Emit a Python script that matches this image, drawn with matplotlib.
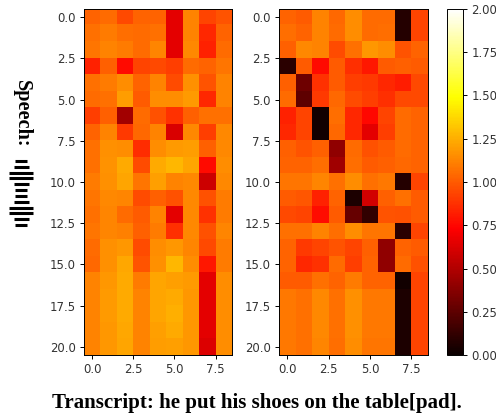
import matplotlib
matplotlib.use("Agg")
import matplotlib.pyplot as plt
import numpy as np

W, H = 496, 415

# values, 21 rows x 9 columns
left_vals = [
    [1.03, 1.05, 0.95, 1.03, 1.03, 0.65, 1.12, 0.93, 0.98],
    [1.07, 1.10, 1.06, 1.05, 1.07, 0.65, 1.12, 0.85, 1.03],
    [1.08, 1.12, 1.10, 1.05, 1.13, 0.65, 1.14, 0.83, 1.05],
    [0.83, 1.02, 0.76, 0.93, 0.95, 0.92, 1.05, 1.03, 1.08],
    [1.07, 1.10, 1.15, 1.03, 1.12, 0.96, 1.16, 0.98, 1.12],
    [1.05, 1.07, 1.20, 1.00, 1.15, 1.15, 1.19, 0.85, 1.12],
    [0.92, 1.02, 0.46, 1.05, 0.97, 0.88, 1.02, 1.07, 1.07],
    [1.03, 1.12, 0.90, 1.04, 1.12, 0.62, 1.14, 0.92, 1.14],
    [1.07, 1.16, 1.15, 0.86, 1.15, 1.19, 1.20, 1.02, 1.14],
    [1.07, 1.17, 1.24, 0.96, 1.24, 1.28, 1.22, 0.76, 1.15],
    [1.10, 1.16, 1.22, 1.08, 1.21, 1.12, 1.14, 0.58, 1.14],
    [1.08, 1.14, 1.13, 0.96, 1.02, 0.97, 1.14, 0.97, 1.10],
    [1.07, 1.13, 1.05, 1.00, 1.12, 0.65, 1.14, 0.88, 1.10],
    [1.08, 1.13, 1.11, 1.02, 1.10, 0.87, 1.14, 0.97, 1.13],
    [1.05, 1.16, 1.18, 0.96, 1.15, 1.18, 1.13, 0.95, 1.10],
    [1.04, 1.16, 1.23, 0.98, 1.16, 1.28, 1.15, 0.80, 1.10],
    [1.12, 1.18, 1.24, 1.10, 1.22, 1.21, 1.19, 0.65, 1.15],
    [1.12, 1.19, 1.24, 1.12, 1.22, 1.24, 1.18, 0.65, 1.15],
    [1.12, 1.19, 1.24, 1.12, 1.22, 1.25, 1.18, 0.65, 1.15],
    [1.12, 1.18, 1.23, 1.12, 1.21, 1.24, 1.18, 0.65, 1.15],
    [1.12, 1.18, 1.22, 1.12, 1.20, 1.21, 1.18, 0.63, 1.15],
]
right_vals = [
    [1.03, 1.00, 1.12, 1.04, 1.15, 1.05, 1.05, 0.08, 0.93],
    [1.06, 1.03, 1.12, 1.05, 1.15, 1.05, 1.06, 0.08, 0.93],
    [1.02, 1.14, 1.12, 0.96, 1.07, 1.18, 1.15, 0.98, 1.03],
    [0.10, 1.00, 0.76, 1.00, 0.87, 0.80, 1.00, 1.02, 1.00],
    [1.02, 0.30, 0.88, 1.00, 0.92, 0.90, 0.85, 0.82, 0.95],
    [1.05, 0.25, 0.90, 1.04, 0.96, 0.92, 0.87, 0.95, 0.95],
    [0.83, 0.93, 0.03, 1.06, 0.85, 0.75, 0.93, 1.05, 1.03],
    [0.85, 0.93, 0.03, 1.04, 0.85, 0.65, 0.92, 1.05, 1.03],
    [1.02, 0.98, 1.02, 0.40, 1.05, 0.97, 1.00, 1.05, 1.03],
    [1.03, 1.03, 1.06, 0.45, 1.06, 1.00, 1.02, 1.04, 1.03],
    [1.08, 1.08, 1.13, 1.07, 1.15, 1.07, 1.09, 0.08, 0.93],
    [1.00, 0.99, 0.83, 1.03, 0.06, 0.60, 1.02, 1.07, 1.00],
    [0.95, 0.93, 0.77, 1.00, 0.28, 0.12, 0.98, 0.97, 1.00],
    [1.07, 1.07, 1.12, 1.06, 1.15, 1.08, 1.08, 0.10, 0.93],
    [1.03, 0.90, 0.93, 0.98, 0.93, 1.02, 0.40, 1.03, 1.00],
    [1.03, 0.85, 0.88, 1.05, 0.92, 1.03, 0.40, 1.05, 0.97],
    [1.00, 1.00, 1.07, 1.03, 1.10, 1.03, 1.03, 0.03, 0.93],
    [1.09, 1.07, 1.14, 1.07, 1.16, 1.09, 1.09, 0.06, 0.93],
    [1.09, 1.07, 1.14, 1.07, 1.16, 1.09, 1.09, 0.06, 0.93],
    [1.09, 1.07, 1.14, 1.07, 1.16, 1.09, 1.09, 0.06, 0.93],
    [1.09, 1.07, 1.13, 1.06, 1.15, 1.08, 1.08, 0.06, 0.93],
]
# half widths of the little waveform bars under "Speech:"
wave_widths = [6, 7.5, 12, 12, 7.5, 6, 6, 7.5, 12, 12, 7.5, 6]
speech_label = "Speech:"
transcript = "Transcript: he put his shoes on the table[pad]."
x_ticks = [0, 2.5, 5, 7.5]
y_ticks = [0, 2.5, 5, 7.5, 10, 12.5, 15, 17.5, 20]
cbar_ticks = [0, 0.25, 0.5, 0.75, 1, 1.25, 1.5, 1.75, 2]


def px_axes(fig, x0, y0, x1, y1):
    return fig.add_axes([x0 / W, 1 - y1 / H, (x1 - x0) / W, (y1 - y0) / H])


fig = plt.figure(figsize=(W / 100, H / 100), dpi=100)

ax1 = px_axes(fig, 84, 9, 232, 355)
ax2 = px_axes(fig, 279, 9, 428, 355)
for ax, vals in [(ax1, left_vals), (ax2, right_vals)]:
    im = ax.imshow(np.array(vals), cmap="hot", vmin=0, vmax=2, aspect="auto")
    ax.set_xticks(x_ticks, ["0.0", "2.5", "5.0", "7.5"])
    ax.set_yticks(y_ticks, ["0.0", "2.5", "5.0", "7.5", "10.0", "12.5", "15.0", "17.5", "20.0"])
    ax.tick_params(labelsize=8.4, labelcolor="#333333", length=3, width=0.7, pad=3)
    for s in ax.spines.values():
        s.set_linewidth(0.7)

cax = px_axes(fig, 447, 9, 463, 355)
cb = fig.colorbar(im, cax=cax)
cb.set_ticks(cbar_ticks, labels=["%.2f" % t for t in cbar_ticks])
cb.ax.tick_params(labelsize=8.4, labelcolor="#333333", length=3, width=0.7, pad=3)
cb.outline.set_linewidth(0.7)

fig.text(22 / W, 1 - 114 / H, speech_label, rotation=270, ha="center", va="center",
         family="Liberation Serif", fontweight="bold", fontsize=14.6, color="black")
fig.text(256.5 / W, 1 - 403 / H, transcript, ha="center", va="center",
         family="Liberation Serif", fontweight="bold", fontsize=15.05, color="black")

# waveform icon
overlay = fig.add_axes([0, 0, 1, 1], facecolor="none")
overlay.set_xlim(0, W)
overlay.set_ylim(H, 0)
overlay.axis("off")
wave_y = np.linspace(161, 225, len(wave_widths))
overlay.hlines(wave_y, [21 - w for w in wave_widths], [21 + w for w in wave_widths],
               color="black", linewidth=2.2)

fig.savefig("out.png", dpi=100)
